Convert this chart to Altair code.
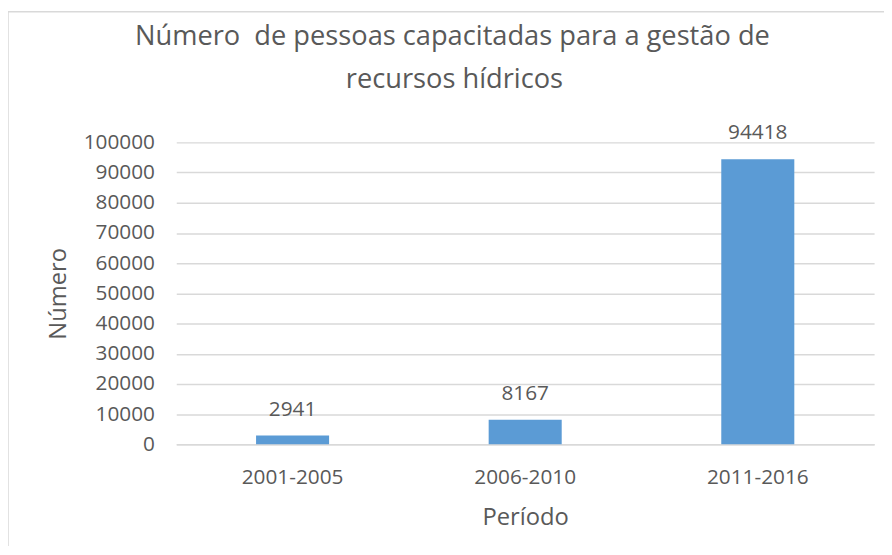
import altair as alt
import pandas as pd

periods = ["2001-2005", "2006-2010", "2011-2016"]
values = [2941, 8167, 94418]
y_ticks = list(range(0, 100001, 10000))
title_lines = ["Número \u00a0de pessoas capacitadas para a gestão de", "recursos hídricos"]

df = pd.DataFrame({"Período": periods, "Número": values})

FONT = "Open Sans"
TEXT = "#595959"
GRID = "#d9d9d9"
W, H = 705, 305

x_enc = alt.X(
    "Período:N",
    sort=periods,
    scale=alt.Scale(paddingInner=0.686, paddingOuter=0.343),
    axis=alt.Axis(
        title="Período", labelAngle=0, ticks=False, domainColor=GRID, domainWidth=1.5,
        labelPadding=23, titlePadding=18, labelFontSize=21, titleFontSize=24,
        labelColor=TEXT, titleColor=TEXT, labelFont=FONT, titleFont=FONT, titleFontWeight="normal",
    ),
)
y_enc = alt.Y(
    "Número:Q",
    scale=alt.Scale(domain=[0, 100000]),
    axis=alt.Axis(
        title="Número", values=y_ticks, tickCount=len(y_ticks), labelOverlap=False, format="d",
        grid=True, gridColor=GRID, gridWidth=1.5,
        domain=False, ticks=False, labelPadding=22, titlePadding=13, labelFontSize=21,
        titleFontSize=24, labelColor=TEXT, titleColor=TEXT, labelFont=FONT, titleFont=FONT,
        titleFontWeight="normal",
    ),
)

base = alt.Chart(df).encode(x=x_enc, y=y_enc)
bars = base.mark_bar(color="#5B9BD5")
labels = base.mark_text(dy=-26, fontSize=21, font=FONT, color=TEXT).encode(
    text=alt.Text("Número:Q", format="d"),
)

one = pd.DataFrame({"k": [0]})
border = alt.Chart(one).mark_rect(
    fillOpacity=0, stroke=GRID, strokeWidth=1.5
).encode(
    x=alt.value(-170), x2=alt.value(W + 40), y=alt.value(-132), y2=alt.value(H + 130)
)
title1 = alt.Chart(one).mark_text(
    fontSize=27.5, font=FONT, color=TEXT, align="center", baseline="alphabetic"
).encode(x=alt.value(279), y=alt.value(-98), text=alt.value(title_lines[0]))
title2 = alt.Chart(one).mark_text(
    fontSize=27.5, font=FONT, color=TEXT, align="center", baseline="alphabetic"
).encode(x=alt.value(281), y=alt.value(-55), text=alt.value(title_lines[1]))

chart = alt.layer(border, bars, labels, title1, title2).properties(
    width=W,
    height=H,
    autosize="none",
    padding={"left": 170, "top": 133, "right": 10, "bottom": 100},
).configure(background="white").configure_view(stroke=None)

chart.save("out.html", embed_options={"renderer": "svg", "actions": False})
